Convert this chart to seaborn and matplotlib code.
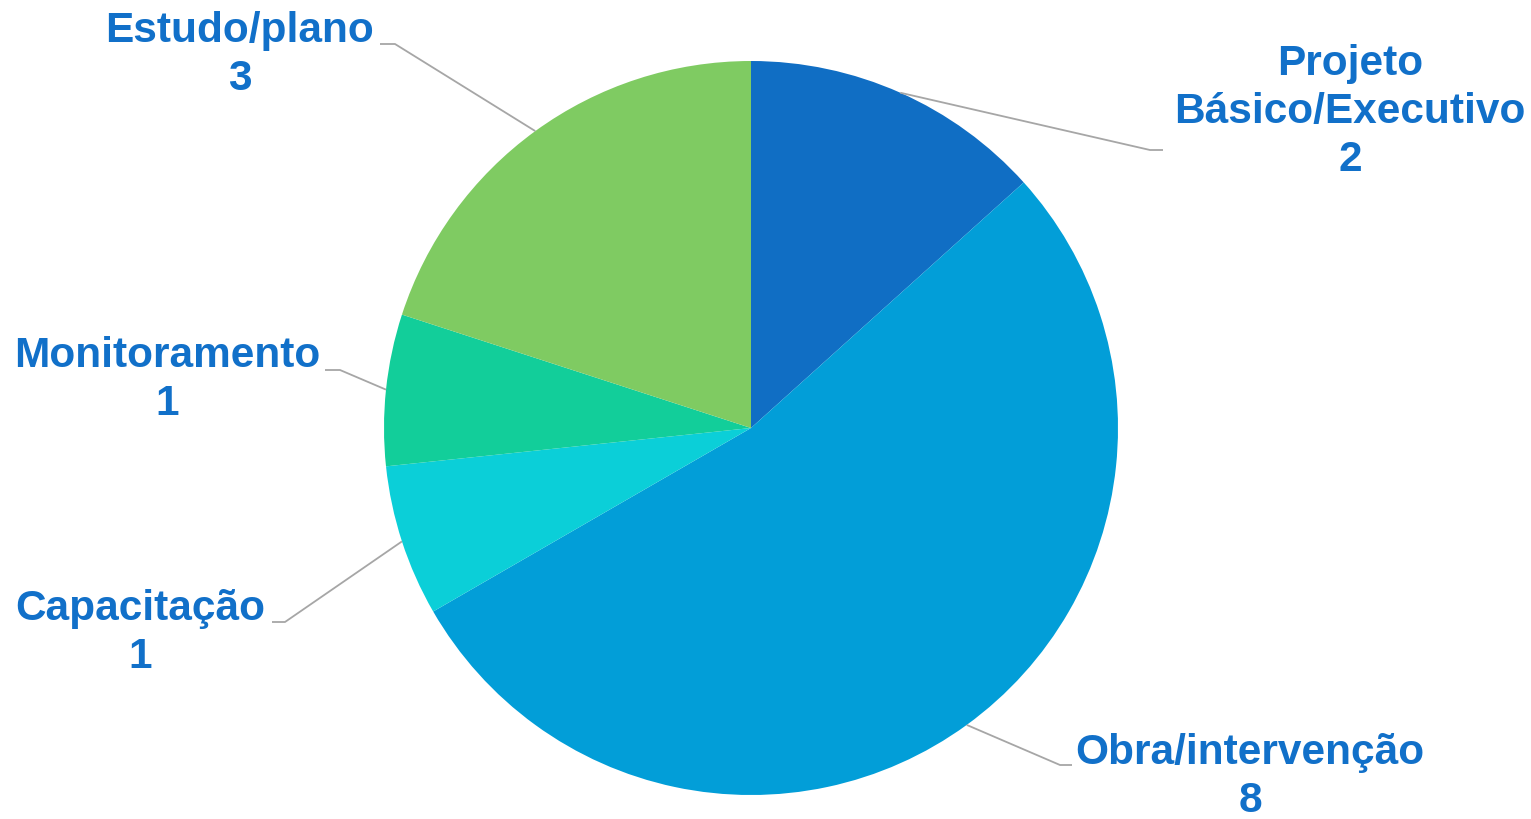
import matplotlib
matplotlib.use('Agg')
import matplotlib.pyplot as plt
import seaborn as sns
import numpy as np

# dados do gráfico
categorias = ['Projeto\nBásico/Executivo', 'Obra/intervenção', 'Capacitação',
              'Monitoramento', 'Estudo/plano']
valores = [2, 8, 1, 1, 3]
cores = ['#106EC4', '#029ED8', '#0BCFD8', '#12CE9A', '#7FCB62']

# posição dos rótulos (centro do texto) e do cotovelo da linha guia, em pixels
rotulos_xy = [(1350, 112), (1250, 777), (140, 633), (167, 380), (240, 55)]
cotovelos = [(1150, 150), (1060, 765), (285, 622), (340, 370), (395, 44)]
pontas = [(1163, 150), (1072, 765), (272, 622), (325, 370), (380, 44)]

W, H = 1531, 819
centro = (751, H - 428)
raio = 367
cor_texto = '#1170C9'

sns.set_theme(style='white')
plt.rcParams['font.family'] = ['Liberation Sans', 'DejaVu Sans']

fig = plt.figure(figsize=(W / 100, H / 100), dpi=100)
ax = fig.add_axes([0, 0, 1, 1])

wedges, _ = ax.pie(valores, colors=sns.color_palette(cores), startangle=90,
                   counterclock=False, radius=raio, center=centro,
                   wedgeprops={'linewidth': 0})

ax.set_xlim(0, W)
ax.set_ylim(0, H)
ax.set_aspect('equal')
ax.axis('off')

for w, cat, v, (tx, ty), (ex, ey), (px, py) in zip(wedges, categorias, valores,
                                                   rotulos_xy, cotovelos, pontas):
    ang = np.deg2rad((w.theta1 + w.theta2) / 2)
    x0 = centro[0] + raio * np.cos(ang)
    y0 = centro[1] + raio * np.sin(ang)
    ax.plot([x0, ex, px], [y0, H - ey, H - py], color='#A6A6A6', lw=1.3,
            solid_capstyle='butt')
    ax.text(tx, H - ty, f'{cat}\n{v}', ha='center', va='center',
            fontsize=30.5, fontweight='bold', color=cor_texto, linespacing=1.25)

fig.savefig('out.png', dpi=100, facecolor='white')
